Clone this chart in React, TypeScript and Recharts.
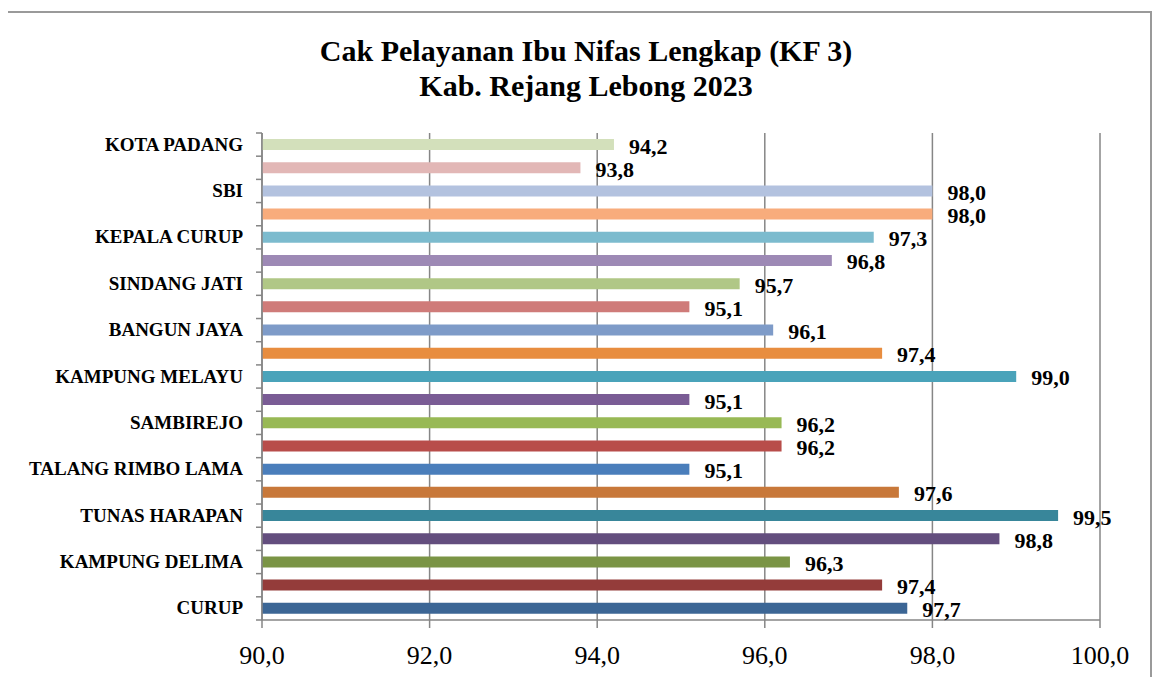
import React from 'react';
import { BarChart, Bar, XAxis, YAxis, CartesianGrid, Cell, LabelList } from 'recharts';

// puskesmas, urut dari atas ke bawah seperti di grafik
const names = [
	'KOTA PADANG',
	'SIMPANG BELITI',
	'SBI',
	'CAHAYA NEGERI',
	'KEPALA CURUP',
	'WATAS MARGA',
	'SINDANG JATI',
	'BERINGIN TIGA',
	'BANGUN JAYA',
	'PADANG ULAK TANDING',
	'KAMPUNG MELAYU',
	'PASAR BARU',
	'SAMBIREJO',
	'KESAMBE',
	'TALANG RIMBO LAMA',
	'TALANG ULU',
	'TUNAS HARAPAN',
	'SUKARAJA',
	'KAMPUNG DELIMA',
	'PERUMNAS',
	'CURUP',
];

const values = [
	94.2, 93.8, 98.0, 98.0, 97.3, 96.8, 95.7, 95.1, 96.1, 97.4, 99.0, 95.1, 96.2,
	96.2, 95.1, 97.6, 99.5, 98.8, 96.3, 97.4, 97.7,
];

const colors = [
	'#D3E0BB', '#E2B7B6', '#B3C2DF', '#F8AC7C', '#7CBBCE', '#9D89B5', '#B0C786',
	'#CF7B79', '#7E9BC8', '#E88D3F', '#4AA3BA', '#7A5C95', '#98B955', '#B84D4A',
	'#4A7EBB', '#C8783A', '#38869A', '#634E7E', '#7A9445', '#943C3A', '#3C6695',
];

const xTicks = [90, 92, 94, 96, 98, 100];

const data = names.map((name, i) => ({ name, value: values[i] }));

const FONT = '"Liberation Serif", "Times New Roman", serif';
const PLOT_H = 487;
const band = PLOT_H / names.length;

const fmt = (v: number) => v.toFixed(1).replace('.', ',');

const CategoryTick = (props: any) => {
	const { x, y, payload, index } = props;
	const axisX = x + 8;
	return (
		<g>
			<line x1={axisX - 6} x2={axisX} y1={y - band / 2} y2={y - band / 2} stroke="#868686" strokeWidth={1.5} />
			{index === names.length - 1 && (
				<line x1={axisX - 6} x2={axisX} y1={y + band / 2} y2={y + band / 2} stroke="#868686" strokeWidth={1.5} />
			)}
			{index % 2 === 0 && (
				<text x={axisX - 19} y={y + 6} textAnchor="end" fontFamily={FONT} fontWeight="bold" fontSize={19} fill="#000">
					{payload.value}
				</text>
			)}
		</g>
	);
};

const ValueLabel = (props: any) => {
	const { x, y, width, height, value } = props;
	return (
		<text x={x + width + 15} y={y + height / 2 + 9} fontFamily={FONT} fontWeight="bold" fontSize={22} fill="#000">
			{fmt(value)}
		</text>
	);
};

export default function App() {
	return (
		<div
			style={{
				position: 'relative',
				width: 1142,
				height: 700,
				marginTop: 3,
				marginLeft: -2,
				border: '2px solid #9a9a9a',
				background: '#fff',
			}}
		>
			<div
				style={{
					position: 'absolute',
					left: 0,
					top: 20,
					width: 1156,
					textAlign: 'center',
					fontFamily: FONT,
					fontWeight: 'bold',
					fontSize: 30,
					lineHeight: '35px',
					color: '#000',
				}}
			>
				Cak Pelayanan Ibu Nifas Lengkap (KF 3)
				<br />
				Kab. Rejang Lebong 2023
			</div>
			<BarChart
				width={1140}
				height={664}
				data={data}
				layout="vertical"
				margin={{ top: 120, right: 48, left: 0, bottom: 10 }}
				barCategoryGap={0}
			>
				<CartesianGrid horizontal={false} stroke="#868686" strokeWidth={1.5} />
				<XAxis
					type="number"
					domain={[90, 100]}
					ticks={xTicks}
					allowDataOverflow
					tickFormatter={fmt}
					axisLine={{ stroke: '#868686', strokeWidth: 1.5 }}
					tickLine={{ stroke: '#868686', strokeWidth: 1.5 }}
					tickSize={8}
					tickMargin={18}
					height={47}
					tick={{ fontFamily: FONT, fontSize: 26, fill: '#000' }}
				/>
				<YAxis
					type="category"
					dataKey="name"
					width={254}
					interval={0}
					axisLine={{ stroke: '#868686', strokeWidth: 1.5 }}
					tickLine={false}
					tick={<CategoryTick />}
				/>
				<Bar dataKey="value" barSize={11} isAnimationActive={false}>
					{data.map((d, i) => (
						<Cell key={d.name} fill={colors[i]} />
					))}
					<LabelList dataKey="value" content={<ValueLabel />} />
				</Bar>
			</BarChart>
		</div>
	);
}
